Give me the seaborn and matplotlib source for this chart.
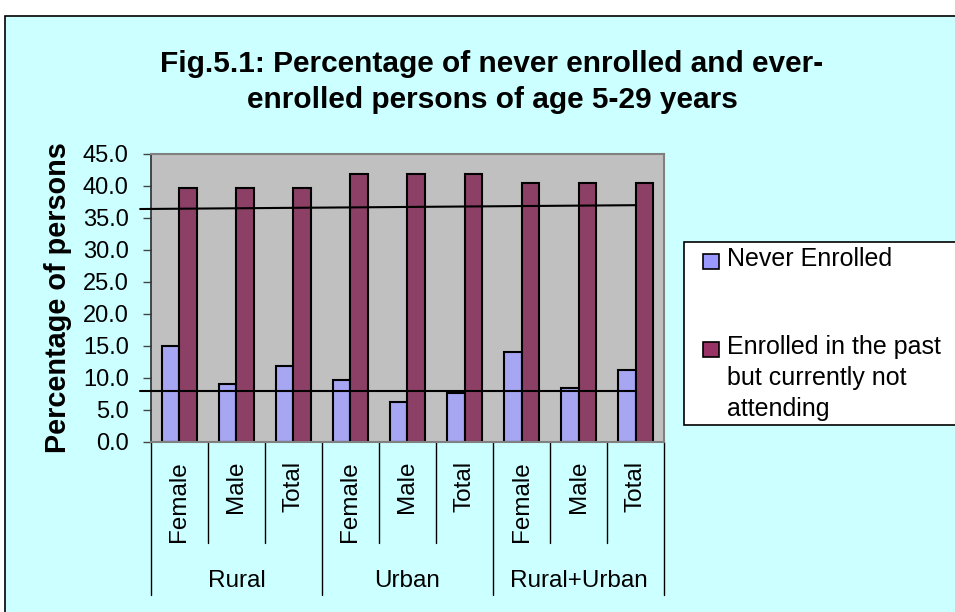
import matplotlib
matplotlib.use('Agg')
import matplotlib.pyplot as plt
from matplotlib.patches import Rectangle
import seaborn as sns
import pandas as pd

# data
groups = ['Rural', 'Urban', 'Rural+Urban']
sexes = ['Female', 'Male', 'Total']
never_enrolled = [15.0, 9.1, 11.9, 9.7, 6.3, 7.7, 14.1, 8.4, 11.3]
enrolled_past = [39.7, 39.7, 39.7, 41.9, 41.9, 41.9, 40.4, 40.4, 40.4]
series_names = ['Never Enrolled', 'Enrolled in the past\nbut currently not\nattending']
series_colors = ['#9999FF', '#993366']
y_ticks = [0, 5, 10, 15, 20, 25, 30, 35, 40, 45]

# the two drawn reference lines (category units / percent)
line_x = [-0.69, 8.0]
upper_line_y = [36.4, 37.0]
lower_line_y = [8.0, 8.0]

keys = [f'{g}|{s}' for g in groups for s in sexes]
df = pd.DataFrame({
    'key': keys * 2,
    'value': never_enrolled + enrolled_past,
    'series': [series_names[0]] * len(keys) + [series_names[1]] * len(keys),
})

sns.set_theme(style='white')
plt.rcParams['font.family'] = ['Liberation Sans', 'DejaVu Sans']
plt.rcParams['text.color'] = 'black'
plt.rcParams['axes.labelcolor'] = 'black'
plt.rcParams['ytick.color'] = 'black'

fig = plt.figure(figsize=(9.55, 6.12), dpi=100)
fig.patch.set_facecolor('white')
fig.patches.append(Rectangle((0.005, -0.01), 1.0, 0.984, transform=fig.transFigure,
                             facecolor='#CCFFFF', edgecolor='black', linewidth=1.2, zorder=-2))

ax = fig.add_axes([0.1581, 0.2778, 0.5372, 0.4706])
sns.barplot(data=df, x='key', y='value', hue='series', palette=series_colors,
            width=0.62, edgecolor='black', linewidth=1.5, ax=ax, legend=False)
ax.set_facecolor('#C0C0C0')
for side in ['top', 'right', 'bottom']:
    ax.spines[side].set_color('#808080')
    ax.spines[side].set_linewidth(1.5)
ax.spines['left'].set_color('#333333')

ax.set_ylim(0, 45)
ax.set_xlim(-0.5, len(keys) - 0.5)
ax.set_yticks(y_ticks)
ax.set_yticklabels([f'{t:.1f}' for t in y_ticks], fontsize=17)
ax.tick_params(axis='y', direction='out', length=6, width=1, color='#444444', pad=10, left=True)
ax.set_xticks([])
ax.set_xlabel('')
ax.set_ylabel('Percentage of persons', fontsize=20.8, fontweight='bold')
ax.yaxis.set_label_coords(-0.154, 0.5)

# reference lines
ax.plot(line_x, upper_line_y, color='black', linewidth=1.5, clip_on=False, zorder=5)
ax.plot(line_x, lower_line_y, color='black', linewidth=1.5, clip_on=False, zorder=5)

# two-level category axis
trans = ax.get_xaxis_transform()
for i in range(len(keys) + 1):
    bottom = -0.531 if i % 3 == 0 else -0.351
    ax.plot([i - 0.5, i - 0.5], [0, bottom], color='black', linewidth=1, transform=trans, clip_on=False)
for i, k in enumerate(keys):
    ax.text(i, -0.066, k.split('|')[1], rotation=90, ha='center', va='top',
            fontsize=17.5, transform=trans)
for j, g in enumerate(groups):
    ax.text(j * 3 + 1, -0.482, g, ha='center', va='center', fontsize=17.5, transform=trans)

# title
fig.text(492 / 955, 1 - 82 / 612,
         'Fig.5.1: Percentage of never enrolled and ever-\nenrolled persons of age 5-29 years',
         ha='center', va='center', fontsize=21.5, fontweight='bold', linespacing=1.35)

# legend box, drawn by hand so swatches sit on the first text line
fig.patches.append(Rectangle((684 / 955, 1 - 425 / 612), 0.4, 183 / 612, transform=fig.transFigure,
                             facecolor='white', edgecolor='black', linewidth=1.2, zorder=1))
legend_tops = [252, 340]
for name, color, top in zip(series_names, series_colors, legend_tops):
    fig.patches.append(Rectangle((703 / 955, 1 - (top + 17) / 612), 16 / 955, 15 / 612,
                                 transform=fig.transFigure, facecolor=color,
                                 edgecolor='black', linewidth=1.2, zorder=2))
    fig.text(727 / 955, 1 - (top - 5) / 612, name, ha='left', va='top', fontsize=18,
             linespacing=1.38, zorder=3)

fig.savefig('out.png', dpi=100)
